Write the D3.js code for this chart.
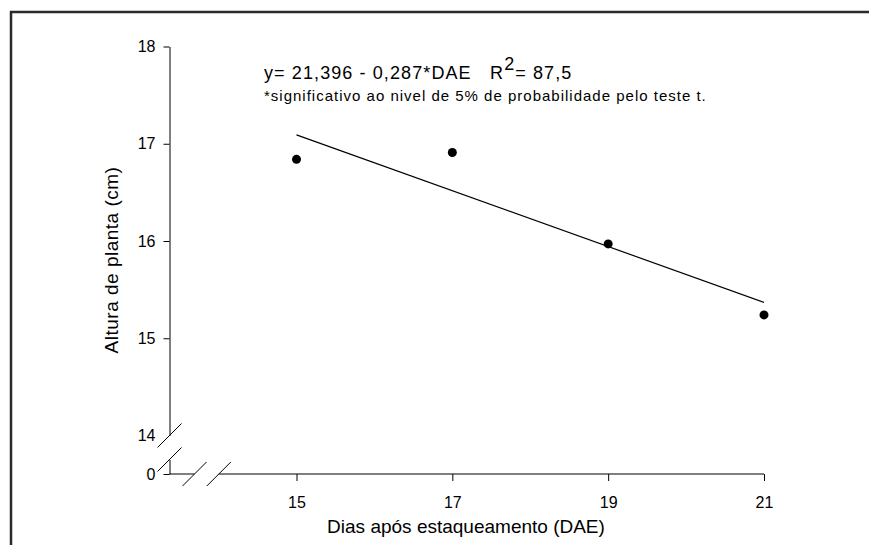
<!DOCTYPE html>
<html>
<head>
<meta charset="utf-8">
<script src="https://cdn.jsdelivr.net/npm/d3@7"></script>
<style>
  body { margin: 0; background: #fff; }
  svg { display: block; font-family: Arial, "Liberation Sans", sans-serif; }
  text { white-space: pre; }
</style>
</head>
<body>
<div id="chart"></div>
<script>
// data
// -----------------------------------------------
const dae = [15, 17, 19, 21];
const altura = [16.84, 16.91, 15.97, 15.24];
const xTicks = [15, 17, 19, 21];
const yTicks = [14, 15, 16, 17, 18];
const yLowTicks = [0];
// regression y = a + b*DAE
const coefA = 21.396;
const coefB = -0.287;
const eqText = 'y= 21,396 - 0,287*DAE   R';
const eqSup = '2';
const eqTail = '= 87,5';
const noteText = '*significativo ao nivel de 5% de probabilidade pelo teste t.';
const xTitle = 'Dias após estaqueamento (DAE)';
const yTitle = 'Altura de planta (cm)';

// layout
// -----------------------------------------------
let width = 869, height = 545;
let origin = { x: 169.5, y: 474 };
let brk = 12; // half size of break slashes

const svg = d3
  .select('#chart')
  .append('svg')
  .attr('width', width)
  .attr('height', height);

// outer frame (cut at right / bottom like the original)
svg.append('path')
  .attr('d', `M11,${height + 5}V12H${width + 5}`)
  .attr('fill', 'none')
  .attr('stroke', '#2a2a2a')
  .attr('stroke-width', 2.5);

// scales
let x = d3.scaleLinear().domain([15, 21]).range([296.5, 764]);
let y = d3.scaleLinear().domain([14, 18]).range([435.5, 46.5]);
let yLow = d3.scaleLinear().domain([0, 1]).range([origin.y, origin.y - 14.5]);
let fmt = d3.format('d');

// y axis (upper part)
svg.append('g')
  .attr('transform', `translate(${origin.x},0)`)
  .call(d3.axisLeft(y).tickValues(yTicks).tickFormat(fmt).tickSize(6).tickSizeOuter(0).tickPadding(8))
  .call((g) => g.selectAll('.tick').filter((d) => d === 14).select('line').remove());

// y axis (lower part, value 0)
svg.append('g')
  .attr('transform', `translate(${origin.x},0)`)
  .call(d3.axisLeft(yLow).tickValues(yLowTicks).tickFormat(fmt).tickSize(6).tickSizeOuter(0).tickPadding(8));

// x axis
svg.append('g')
  .attr('transform', `translate(0,${origin.y})`)
  .call(d3.axisBottom(x).tickValues(xTicks).tickFormat(fmt).tickSize(7).tickPadding(16))
  .call((g) => g.select('.domain').remove());

let xb1 = origin.x + 25, xb2 = origin.x + 49.3;
svg.append('path')
  .attr('d', `M${origin.x},${origin.y}H${xb1}M${xb2},${origin.y}H${x(21)}`)
  .attr('stroke', '#000')
  .attr('fill', 'none');

svg.selectAll('.tick text')
  .attr('font-size', 16)
  .attr('font-family', 'Arial, "Liberation Sans", sans-serif')
  .attr('fill', '#000');
svg.selectAll('.tick line, .domain').attr('stroke', '#000');

// break slashes
let slashes = [
  [origin.x, y(14)],
  [origin.x, yLow(1)],
  [xb1, origin.y],
  [xb2, origin.y],
];
svg.append('g')
  .selectAll('line')
  .data(slashes)
  .join('line')
  .attr('x1', (d) => d[0] - brk)
  .attr('y1', (d) => d[1] + brk)
  .attr('x2', (d) => d[0] + brk)
  .attr('y2', (d) => d[1] - brk)
  .attr('stroke', '#000')
  .attr('stroke-width', 1);

// regression line
svg.append('line')
  .attr('x1', x(15))
  .attr('y1', y(coefA + coefB * 15))
  .attr('x2', x(21))
  .attr('y2', y(coefA + coefB * 21))
  .attr('stroke', '#000')
  .attr('stroke-width', 1.2);

// points
svg.append('g')
  .selectAll('circle')
  .data(dae)
  .join('circle')
  .attr('cx', (d) => x(d))
  .attr('cy', (d, i) => y(altura[i]))
  .attr('r', 4.5)
  .attr('fill', '#000');

// equation
const eq = svg.append('text')
  .attr('x', 264)
  .attr('y', 79)
  .attr('font-size', 18)
  .attr('letter-spacing', 1.1)
  .attr('fill', '#000');
eq.append('tspan').text(eqText);
eq.append('tspan').attr('dy', -9).text(eqSup);
eq.append('tspan').attr('dy', 9).text(eqTail);

svg.append('text')
  .attr('x', 264)
  .attr('y', 101)
  .attr('font-size', 15)
  .attr('letter-spacing', 1)
  .attr('fill', '#000')
  .text(noteText);

// axis titles
svg.append('text')
  .attr('x', 466)
  .attr('y', 533)
  .attr('text-anchor', 'middle')
  .attr('font-size', 19)
  .attr('fill', '#000')
  .text(xTitle);

svg.append('text')
  .attr('transform', `translate(118,260) rotate(-90)`)
  .attr('text-anchor', 'middle')
  .attr('font-size', 19)
  .attr('letter-spacing', 0.5)
  .attr('fill', '#000')
  .text(yTitle);
</script>
</body>
</html>
